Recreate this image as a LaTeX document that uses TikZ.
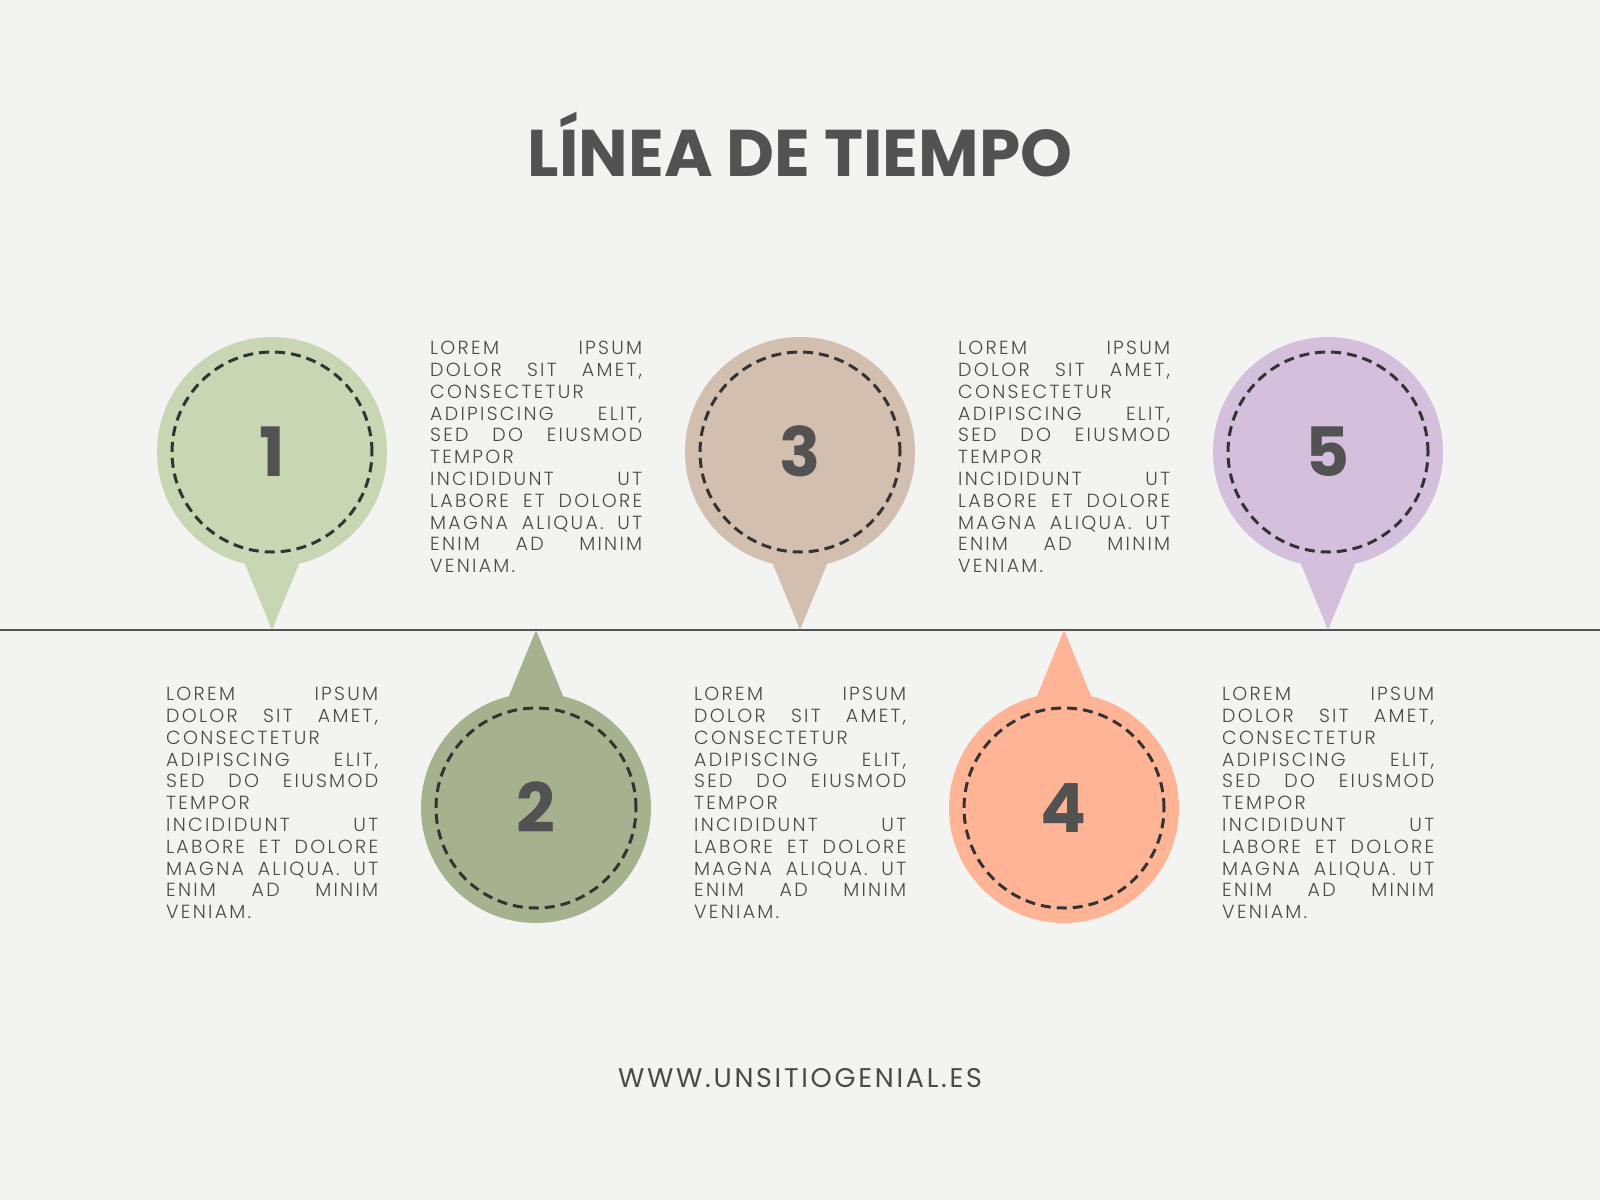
\documentclass[tikz,border=0pt]{standalone}
\usepackage{fontspec}
\setmainfont{Poppins}
\IfFontExistsTF{Poppins Light}
  {\newfontfamily\bodyfont[LetterSpace=12]{Poppins Light}}
  {\newfontfamily\bodyfont[LetterSpace=12]{Poppins}}
\newfontfamily\webfont[LetterSpace=10]{Poppins}

\definecolor{paper}{HTML}{F3F3F1}
\definecolor{inkgray}{HTML}{525252}
\definecolor{textgray}{HTML}{4A4A4A}
\definecolor{ringgray}{HTML}{333333}
\definecolor{pinA}{HTML}{C8D6B4}
\definecolor{pinB}{HTML}{A6B28D}
\definecolor{pinC}{HTML}{D2BFB0}
\definecolor{pinD}{HTML}{FFB496}
\definecolor{pinE}{HTML}{D4C0DC}

\tikzset{
  ring/.style={draw=ringgray, line width=3pt, dash pattern=on 10pt off 6pt},
  numlabel/.style={font=\fontsize{68}{68}\selectfont\bfseries, text=inkgray, anchor=base, inner sep=0pt},
  blurb/.style={font=\bodyfont\fontsize{19}{21.8}\selectfont, text=textgray,
    text width=212pt, align=left, inner sep=0pt, anchor=north west},
}

\newcommand\jl[1]{\makebox[212pt][s]{\spaceskip=.33em plus 1fil\relax#1}}
\newcommand\lorem{\jl{LOREM IPSUM}\\\jl{DOLOR SIT AMET,}\\CONSECTETUR\\
  \jl{ADIPISCING ELIT,}\\\jl{SED DO EIUSMOD}\\TEMPOR\\\jl{INCIDIDUNT UT}\\
  \jl{LABORE ET DOLORE}\\\jl{MAGNA ALIQUA. UT}\\\jl{ENIM AD MINIM}\\VENIAM.}

\begin{document}
\begin{tikzpicture}[x=1pt,y=-1pt]
  \useasboundingbox[fill=paper] (0,0) rectangle (1600,1200);
  \node[font=\fontsize{66}{66}\selectfont\bfseries, text=inkgray, anchor=base] (title) at (800,176) {LÍNEA DE TIEMPO};
  \coordinate (L) at (0,630);
  \coordinate (R) at (1600,630);
  \draw[line width=1.5pt, inkgray] (L) -- (R);
  \foreach \i/\x/\c/\s in {1/272/pinA/1, 2/536/pinB/-1, 3/800/pinC/1, 4/1064/pinD/-1, 5/1328/pinE/1} {
    \pgfmathsetmacro{\cy}{630-178*\s}
    \coordinate (tip\i) at (\x,630);
    \fill[\c] (\x-32,\cy+100*\s) -- (tip\i) -- (\x+32,\cy+100*\s) -- cycle;
    \fill[\c] (\x,\cy) circle[radius=115pt];
    \draw[ring] (\x,\cy) circle[radius=100pt];
    \node[numlabel] (n\i) at (\x,\cy+24) {\i};
    \node[blurb] (t\i) at (\x-106,514+173*\s) {\lorem};
  }
  \node[font=\webfont\fontsize{27}{27}\selectfont, text=textgray, anchor=base] (web) at (800,1087) {WWW.UNSITIOGENIAL.ES};
\end{tikzpicture}
\end{document}
